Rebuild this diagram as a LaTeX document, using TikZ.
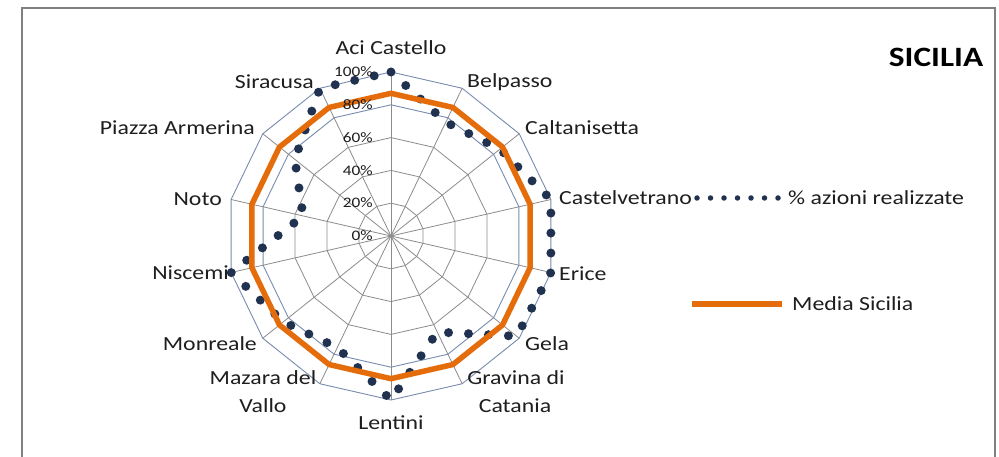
\documentclass[tikz,border=0pt]{standalone}
\usepackage{fontspec}
\setmainfont{Carlito}[FakeStretch=1.19]
\definecolor{gridgray}{RGB}{140,140,140}
\definecolor{ringblue}{RGB}{120,140,175}
\definecolor{navydot}{RGB}{32,50,80}
\definecolor{orangeM}{RGB}{228,108,10}
\definecolor{framegray}{RGB}{128,128,128}
\definecolor{txt}{RGB}{30,30,30}
\begin{document}
\begin{tikzpicture}[x=1pt,y=-1pt,
  grid/.style={draw=gridgray, line width=0.8pt},
  ringout/.style={draw=ringblue, line width=0.9pt},
  lab/.style={font=\fontsize{20}{22}\selectfont, text=txt, inner sep=0pt, text height=12.9pt, text depth=0pt},
  pct/.style={font=\fontsize{14.5}{16}\selectfont, text=txt, inner sep=0pt, anchor=east, text height=9.3pt, text depth=0pt},
  media/.style={draw=orangeM, line width=5.5pt, line join=round},
  azioni/.style={draw=navydot, line width=9pt, line cap=round, dash pattern=on 0pt off 20pt},
  azionileg/.style={draw=navydot, line width=5.5pt, line cap=round, dash pattern=on 0pt off 13.5pt},
]
\useasboundingbox (0,0) rectangle (999,457);
\fill[white] (0,0) rectangle (999,457);
\draw[framegray, line width=2pt] (22,457) -- (22,8) -- (995,8) -- (995,457);

\begin{scope}[shift={(391,236)}, yscale=-1]
  % rings
  \foreach \k in {20,40,60} {
    \draw[grid] (90:{\k*1.64}) \foreach \i in {1,...,13} { -- ({90-\i*360/14}:{\k*1.64}) } -- cycle;
  }
  \foreach \k in {80,100} {
    \draw[ringout] (90:{\k*1.64}) \foreach \i in {1,...,13} { -- ({90-\i*360/14}:{\k*1.64}) } -- cycle;
  }
  % spokes
  \foreach \i in {0,...,13} { \draw[grid] (0,0) -- ({90-\i*360/14}:164); }
  % series: % azioni realizzate
  \draw[azioni] (90:164) \foreach \v [count=\i] in {0.77,0.85,1,1,0.98,0.65,1,0.755,0.84,1,0.55,0.75,1} { -- ({90-\i*360/14}:{\v*164}) } -- cycle;
  % series: Media Sicilia
  \draw[media] (90:{0.87*164}) \foreach \i in {1,...,13} { -- ({90-\i*360/14}:{0.87*164}) } -- cycle;
\end{scope}

% percentage labels
\node[pct] (p0) at (373,236) {0\%};
\node[pct] (p20) at (373,203.2) {20\%};
\node[pct] (p40) at (373,170.4) {40\%};
\node[pct] (p60) at (373,137.6) {60\%};
\node[pct] (p80) at (373,104.8) {80\%};
\node[pct] (p100) at (373,72) {100\%};

% category labels
\node[lab] (aci) at (391,48) {Aci Castello};
\node[lab, anchor=west] (belpasso) at (467,81) {Belpasso};
\node[lab, anchor=west] (calt) at (525,128) {Caltanisetta};
\node[lab, anchor=west] (castel) at (559,198) {Castelvetrano};
\node[lab, anchor=west] (erice) at (559,274) {Erice};
\node[lab, anchor=west] (gela) at (525,344) {Gela};
\node[lab] (grav1) at (516,378) {Gravina di};
\node[lab] (grav2) at (515,406) {Catania};
\node[lab] (lentini) at (391,423) {Lentini};
\node[lab] (maz1) at (263,378) {Mazara del};
\node[lab] (maz2) at (263,406) {Vallo};
\node[lab, anchor=east] (monreale) at (257,344) {Monreale};
\node[lab, anchor=east] (niscemi) at (229,273) {Niscemi};
\node[lab, anchor=east] (noto) at (222,199) {Noto};
\node[lab, anchor=east] (piazza) at (255,128) {Piazza Armerina};
\node[lab, anchor=east] (siracusa) at (314,82) {Siracusa};

% title
\node[font=\fontsize{28}{30}\selectfont\bfseries, text=black, inner sep=0pt, text height=18pt, text depth=0pt] (title) at (936,58) {SICILIA};

% legend
\coordinate (la1) at (697,198);
\coordinate (la2) at (779,198);
\draw[azionileg] (la1) -- (la2);
\node[lab, anchor=west] (legA) at (788,198) {\% azioni realizzate};
\coordinate (lm1) at (692,304);
\coordinate (lm2) at (782,304);
\draw[media] (lm1) -- (lm2);
\node[lab, anchor=west] (legM) at (792,304) {Media Sicilia};
\end{tikzpicture}
\end{document}
